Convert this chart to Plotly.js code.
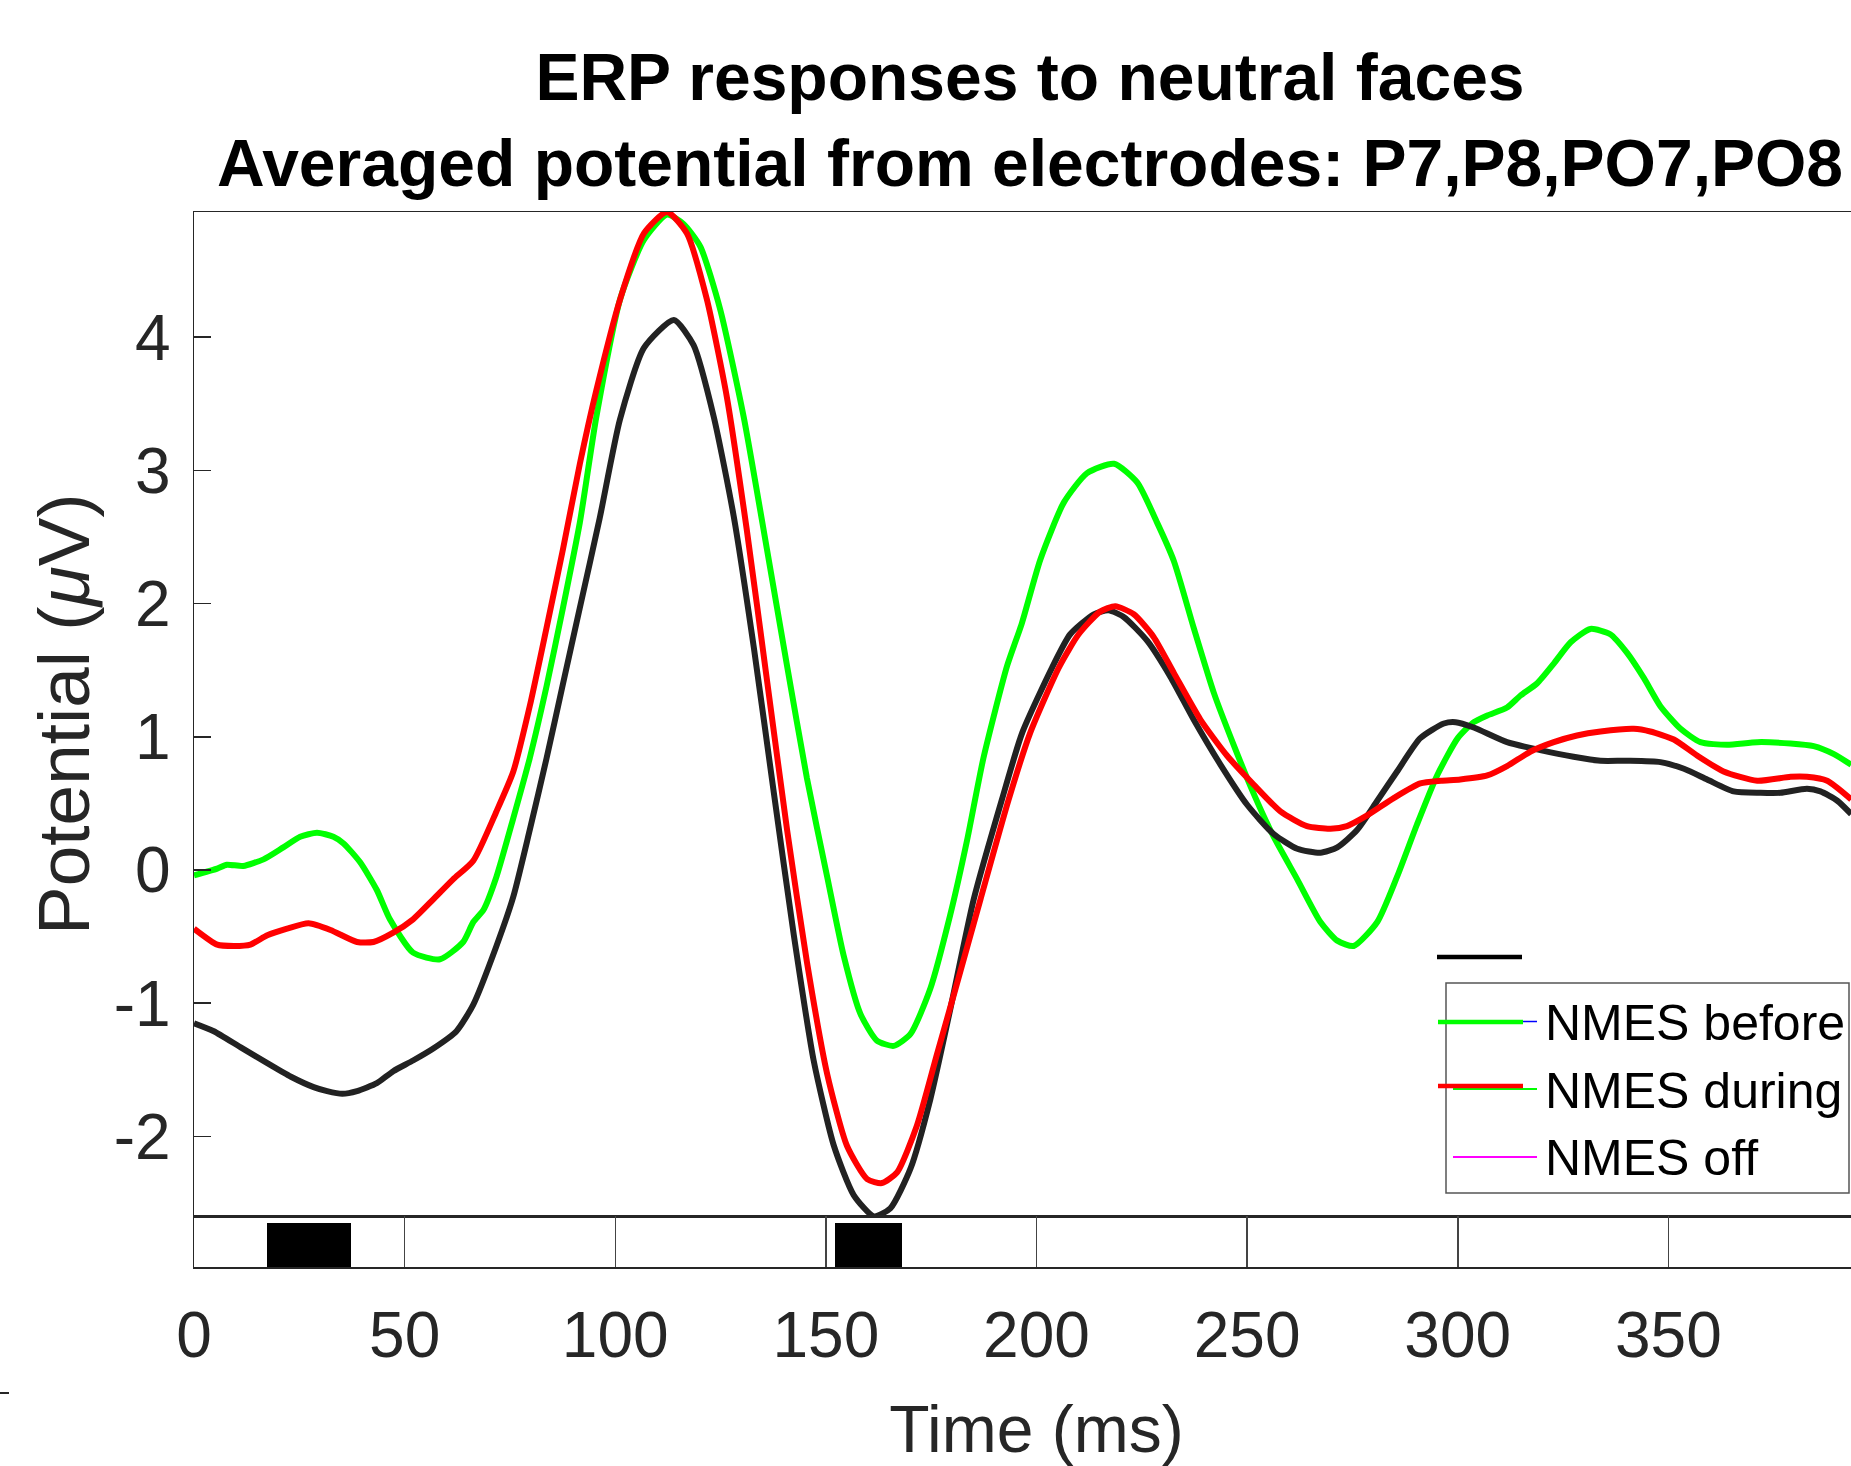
<!DOCTYPE html>
<html>
<head>
<meta charset="utf-8">
<script src="https://cdn.plot.ly/plotly-3.0.1.min.js"></script>
<style>
html, body { margin: 0; padding: 0; overflow: hidden; background: #fff; }
#chart { width: 1880px; height: 1466px; }
</style>
</head>
<body>
<div id="chart"></div>
<script>
// ---- data ----
const timeBefore = [0,5.5,7.8,11.7,16.5,21.2,25.2,29.2,33.1,35.5,39.4,43.4,46.5,52,58.4,63.9,66.3,68.7,71.8,75.8,79.7,83.7,87.6,91.6,95.5,101.2,106.8,112.3,116.2,120.2,124.9,130.5,136,140.8,145.5,150.3,154.2,158.2,162.1,166.1,170.1,174.8,179.5,183.5,187.4,193,196.5,200.9,206.5,212,218.4,223.9,228.6,232.6,237.3,242.1,246.8,251.6,256.3,261.9,267.4,271.4,275.3,280.9,285.6,290.3,295.1,300,303.8,307,311.7,314.9,318.8,322.8,326.8,331.5,336.2,340.2,344.2,348.1,352.9,357.6,363.9,371.1,379,384.5,389.3,393.4];
const nmesBefore = [-0.04,0.01,0.04,0.03,0.08,0.17,0.25,0.28,0.25,0.2,0.06,-0.15,-0.37,-0.62,-0.67,-0.54,-0.39,-0.30,-0.05,0.39,0.84,1.38,1.97,2.61,3.4,4.29,4.73,4.92,4.85,4.68,4.21,3.4,2.41,1.53,0.69,-0.05,-0.64,-1.08,-1.28,-1.32,-1.23,-0.89,-0.34,0.22,0.84,1.53,1.85,2.33,2.76,2.98,3.05,2.91,2.61,2.32,1.82,1.33,0.94,0.57,0.25,-0.07,-0.39,-0.53,-0.57,-0.39,-0.05,0.34,0.71,0.99,1.11,1.16,1.22,1.31,1.4,1.55,1.71,1.81,1.77,1.63,1.44,1.23,1.06,0.96,0.94,0.96,0.95,0.93,0.87,0.79];

const timeDuring = [0,5.5,9.5,13.4,17.4,22.1,27.2,32.4,38.7,42.6,47.3,52,56.8,61.5,66.3,71.8,75.8,79.7,83.7,87.6,91.6,95.5,101.2,106.8,112.3,117,121.7,126.5,131.2,136,140.8,145.5,150.3,155,159.8,163.3,166.9,171.6,176.4,180.7,186.7,193.4,198.5,205.3,210,215.1,218.7,223.1,227.8,232.6,238.9,245.2,251.6,257.9,264.2,269.8,273.7,278.5,284.8,291.1,296,300.6,307,311.7,317.3,322.8,328.3,333.9,341.8,345.7,351.3,356.8,363.1,371.1,379,382.9,387.7,393.4];
const nmesDuring = [-0.44,-0.56,-0.57,-0.56,-0.49,-0.44,-0.40,-0.45,-0.54,-0.54,-0.47,-0.37,-0.22,-0.07,0.07,0.44,0.74,1.23,1.82,2.41,3.05,3.6,4.29,4.78,4.94,4.78,4.29,3.55,2.56,1.43,0.3,-0.69,-1.53,-2.07,-2.32,-2.35,-2.27,-1.92,-1.38,-0.9,-0.22,0.53,1.03,1.52,1.77,1.94,1.98,1.92,1.75,1.48,1.13,0.86,0.64,0.44,0.33,0.31,0.33,0.41,0.54,0.65,0.67,0.68,0.71,0.78,0.89,0.96,1.01,1.04,1.06,1.04,0.98,0.86,0.74,0.67,0.7,0.7,0.67,0.53];

const timeOff = [0,4.7,11,17.4,22.9,28.4,31.6,35.2,38.7,43.4,47.3,52,56.8,62.3,66.3,71.8,75.8,79.7,83.7,87.6,91.6,96.3,101.1,106.8,113.9,118.6,123.4,128.1,132.9,137.6,142.4,147.1,151.9,156.6,161.4,165.3,170.1,174.8,179.5,185.1,191.8,196.6,203.7,208,213.6,217.1,220.7,226.3,231.8,237.3,243.7,250,256.3,261.9,267.4,271.4,276.1,280.9,285.6,291.1,296.7,299.5,303.8,311.7,319.6,327.5,333.9,340.2,348.1,353.7,359.2,365.5,371.9,376.6,382.9,386.1,390.1,393.4];
const nmesOff = [-1.15,-1.21,-1.33,-1.45,-1.55,-1.63,-1.66,-1.68,-1.66,-1.6,-1.51,-1.43,-1.34,-1.21,-1.01,-0.57,-0.2,0.3,0.84,1.4,1.97,2.64,3.38,3.92,4.13,3.94,3.4,2.66,1.67,0.59,-0.49,-1.43,-2.07,-2.44,-2.6,-2.54,-2.24,-1.72,-1.05,-0.22,0.53,1.03,1.52,1.77,1.92,1.95,1.9,1.72,1.45,1.13,0.79,0.49,0.27,0.16,0.13,0.17,0.3,0.52,0.74,0.99,1.1,1.11,1.07,0.96,0.9,0.85,0.82,0.82,0.81,0.76,0.68,0.59,0.58,0.58,0.61,0.59,0.52,0.42];

// significance windows (ms)
const sigStart = [17.3, 152.2];
const sigEnd = [37.2, 168.1];
const sigLevel = [1, 1];

const xTickVals = [0, 50, 100, 150, 200, 250, 300, 350];
const xTickText = ['0', '50', '100', '150', '200', '250', '300', '350'];
const yTickVals = [-2, -1, 0, 1, 2, 3, 4];
const yTickText = ['-2', '-1', '0', '1', '2', '3', '4'];

const legendNames = ['NMES before', 'NMES during', 'NMES off'];
const titleLines = ['ERP responses to neutral faces', 'Averaged potential from electrodes: P7,P8,PO7,PO8'];

// ---- figure geometry ----
const W = 1880, H = 1466;
const M = {l: 194, r: 1, t: 212, b: 199};
const PW = W - M.l - M.r, PH = H - M.t - M.b;
const px2x = X => (X - M.l) / PW;
const px2y = Y => (H - M.b - Y) / PH;
const FONT = 'Liberation Sans, Arial, Helvetica, sans-serif';
const AXC = '#262626';

const lineW = 6;
const traces = [
  {x: timeBefore, y: nmesBefore, type: 'scatter', mode: 'lines', name: legendNames[0],
   line: {color: '#00ff00', width: lineW, shape: 'spline', smoothing: 0.6}, xaxis: 'x', yaxis: 'y', showlegend: false},
  {x: timeOff, y: nmesOff, type: 'scatter', mode: 'lines', name: legendNames[2],
   line: {color: '#222222', width: lineW, shape: 'spline', smoothing: 0.6}, xaxis: 'x', yaxis: 'y', showlegend: false},
  {x: timeDuring, y: nmesDuring, type: 'scatter', mode: 'lines', name: legendNames[1],
   line: {color: '#ff0000', width: lineW, shape: 'spline', smoothing: 0.6}, xaxis: 'x', yaxis: 'y', showlegend: false},
  {x: sigStart.map((s, i) => (s + sigEnd[i]) / 2), width: sigStart.map((s, i) => sigEnd[i] - s),
   y: sigLevel, type: 'bar', marker: {color: '#000000', line: {width: 0}},
   xaxis: 'x2', yaxis: 'y2', showlegend: false, hoverinfo: 'skip'}
];

// ---- legend drawn as shapes + text ----
const shapes = [];
const annotations = [];
function hline(x0, x1, y, color, width) {
  shapes.push({type: 'line', xref: 'paper', yref: 'paper', x0: px2x(x0), x1: px2x(x1),
    y0: px2y(y), y1: px2y(y), line: {color: color, width: width}});
}
shapes.push({type: 'rect', xref: 'paper', yref: 'paper', x0: px2x(1446), x1: px2x(1849),
  y0: px2y(1193), y1: px2y(983), line: {color: '#555555', width: 1.5}, fillcolor: '#ffffff', layer: 'above'});
hline(1437, 1522, 957, '#000000', 4.5);
hline(1523, 1537, 1021.5, '#0000ff', 1.5);
hline(1438, 1523, 1022, '#00ff00', 4.5);
hline(1453, 1537, 1089, '#00ff00', 2);
hline(1438, 1523, 1086, '#ff0000', 4.5);
hline(1453, 1537, 1157, '#ff00ff', 2);
// small dash at lower left edge
hline(0, 9, 1393, AXC, 2);

const legY = [1023, 1091, 1158];
legendNames.forEach((n, i) => {
  annotations.push({text: n, xref: 'paper', yref: 'paper', x: px2x(1543), y: px2y(legY[i]),
    xanchor: 'left', yanchor: 'middle', showarrow: false,
    font: {family: FONT, size: 50, color: '#000000'}});
});

const stripTop = 0.048;
const layout = {
  width: W, height: H,
  margin: M,
  paper_bgcolor: '#ffffff', plot_bgcolor: '#ffffff',
  showlegend: false,
  bargap: 0,
  title: {
    text: titleLines.join('<br>'),
    font: {family: FONT, size: 66, color: '#000000', weight: 'bold'},
    xref: 'container', x: 1030 / W, xanchor: 'center',
    yref: 'paper', y: 1, yanchor: 'bottom', pad: {b: 112}
  },
  xaxis: {
    domain: [0, 1], anchor: 'y', range: [0, 400], matches: 'x2',
    showline: true, mirror: true, linecolor: AXC, linewidth: 1.5,
    ticks: '', showticklabels: false, showgrid: false, zeroline: false
  },
  yaxis: {
    domain: [stripTop, 1], anchor: 'x', range: [-2.60, 4.94],
    tickvals: yTickVals, ticktext: yTickText,
    ticks: 'inside', ticklen: 17, tickwidth: 1.5, tickcolor: AXC,
    showline: true, linecolor: AXC, linewidth: 1.5,
    showgrid: false, zeroline: false,
    tickfont: {family: FONT, size: 64, color: AXC},
    ticklabelstandoff: 9,
    title: {text: 'Potential (<i>μ</i>V)', font: {family: FONT, size: 73, color: AXC}, standoff: 0}
  },
  xaxis2: {
    domain: [0, 1], anchor: 'y2', range: [0, 400],
    tickvals: xTickVals, ticktext: xTickText,
    ticks: '', showline: true, mirror: true, linecolor: AXC, linewidth: 1.5,
    showgrid: true, gridcolor: '#444444', gridwidth: 1.5, zeroline: false,
    tickfont: {family: FONT, size: 64, color: AXC},
    ticklabelstandoff: 12,
    title: {text: 'Time (ms)', font: {family: FONT, size: 66, color: AXC}, standoff: 38}
  },
  yaxis2: {
    domain: [0, stripTop], anchor: 'x2', range: [0, 1.15],
    showticklabels: false, ticks: '', showline: true, linecolor: AXC, linewidth: 1.5,
    showgrid: false, zeroline: false, fixedrange: true
  },
  shapes: shapes,
  annotations: annotations
};

Plotly.newPlot('chart', traces, layout, {displayModeBar: false, staticPlot: true});
</script>
</body>
</html>
